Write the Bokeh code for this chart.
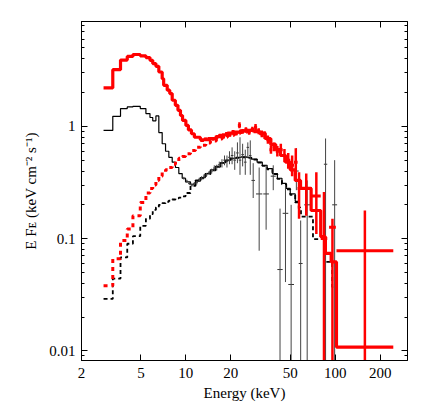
import math
from bokeh.plotting import figure
from bokeh.models import (LogAxis, FixedTicker, CustomJSTickFormatter, Range1d)
from bokeh.embed import file_html
from bokeh.resources import INLINE

# ---------------- data ----------------
x_ticks = [2, 5, 10, 20, 50, 100, 200]
y_ticks = [0.01, 0.1, 1]

# red total model (thick step)
red_tot_edges = [2.81, 3.24, 3.65, 4.05, 4.42, 4.95, 5.40, 5.75, 6.00, 6.30,
                 6.59, 6.94, 7.10, 7.50, 7.80, 8.10, 8.50, 8.85, 9.20, 9.50,
                 10.0, 10.4, 10.9, 11.4, 12.5, 13.6, 14.6, 16.0, 17.5, 19.0,
                 21.0, 23.0, 25.5, 28.0, 31.0, 34.0, 37.0, 40.0, 43.0, 46.5,
                 50.0, 54.0, 58.6, 69.0, 80.0, 86.0, 94.0, 102.0, 245.0]
red_tot_vals = [2.2, 3.2, 3.9, 4.2, 4.37, 4.25, 4.1, 3.88, 3.63, 3.43,
                3.05, 2.66, 2.32, 2.10, 1.96, 1.71, 1.54, 1.39, 1.25, 1.13,
                1.02, 0.93, 0.86, 0.80, 0.76, 0.76, 0.78, 0.81, 0.84, 0.87,
                0.89, 0.91, 0.92, 0.91, 0.87, 0.78, 0.69, 0.62, 0.55, 0.48,
                0.41, 0.33, 0.28, 0.178, 0.104, 0.074, 0.062, 0.0108]

# red hard component (dashed)
red_cmp_edges = [2.81, 3.24, 3.65, 4.05, 4.42, 4.95, 5.40, 5.75, 6.00, 6.30,
                 6.59, 6.94, 7.31, 7.69, 8.10, 8.52, 8.97, 9.45, 9.95, 10.74,
                 11.6, 12.5, 13.6, 14.6, 16.0, 17.5, 19.0, 21.0, 23.0, 25.5,
                 28.0, 31.0, 34.0, 37.0, 40.0]
red_cmp_vals = [0.038, 0.066, 0.096, 0.122, 0.16, 0.21, 0.255, 0.28, 0.30, 0.33,
                0.36, 0.39, 0.41, 0.43, 0.46, 0.49, 0.52, 0.54, 0.57, 0.61,
                0.65, 0.68, 0.71, 0.74, 0.77, 0.80, 0.83, 0.86, 0.88, 0.895,
                0.895, 0.86, 0.78, 0.69]

# black total model (thin step)
blk_tot_edges = [2.81, 3.24, 3.65, 4.05, 4.42, 4.95, 5.40, 5.75, 6.00, 6.30,
                 6.59, 6.94, 7.31, 7.69, 8.10, 8.52, 8.97, 9.45, 9.95, 10.74,
                 11.6, 12.5, 13.5, 14.6, 15.8, 17.1, 18.5, 20.0, 21.7, 23.5,
                 25.5, 27.5, 30.0, 32.5, 35.0, 38.0, 41.0, 44.0, 47.0, 50.0,
                 54.0, 57.0, 59.0]
blk_tot_vals = [0.92, 1.23, 1.44, 1.49, 1.51, 1.44, 1.30, 1.20, 1.12, 1.24,
                0.88, 0.70, 0.60, 0.53, 0.48, 0.43, 0.38, 0.345, 0.32, 0.305,
                0.325, 0.35, 0.38, 0.41, 0.44, 0.475, 0.50, 0.52, 0.53, 0.535,
                0.53, 0.51, 0.48, 0.45, 0.42, 0.38, 0.345, 0.31, 0.28, 0.25,
                0.215, 0.19]

# black hard component (dashed)
blk_cmp_edges = [2.81, 3.24, 3.65, 4.05, 4.42, 4.95, 5.40, 5.75, 6.00, 6.30,
                 6.59, 6.94, 7.31, 7.69, 8.10, 8.52, 8.97, 9.45, 9.95, 10.74,
                 11.6, 12.5, 13.5, 14.6, 15.8, 17.1, 18.5, 20.0, 21.7, 23.5,
                 25.5, 27.5, 30.0, 32.5, 35.0, 38.0, 41.0, 44.0, 47.0, 50.0,
                 54.0, 57.0, 59.0, 71.0, 84.0, 95.5, 103.0]
blk_cmp_vals = [0.029, 0.044, 0.068, 0.09, 0.105, 0.13, 0.15, 0.165, 0.18, 0.19,
                0.20, 0.207, 0.213, 0.218, 0.223, 0.228, 0.232, 0.238, 0.255, 0.295,
                0.33, 0.345, 0.375, 0.405, 0.435, 0.47, 0.495, 0.515, 0.525, 0.53,
                0.525, 0.505, 0.475, 0.445, 0.415, 0.375, 0.34, 0.305, 0.275, 0.245,
                0.21, 0.185, 0.157, 0.099, 0.062, 0.037]

# red data points: energy bin low/high, flux, flux low/high
red_e_lo = [12.5, 13.2, 14.0, 14.8, 15.6, 16.5, 17.4, 18.3, 19.2, 20.2,
            21.2, 22.3, 23.4, 24.6, 25.9, 27.2, 28.6, 30.0, 31.5, 33.0,
            34.6, 36.3, 38.0, 40.0, 42.0, 44.5, 47.0, 50.0, 53.0, 56.0,
            58.6, 69.9, 80.0, 91.0, 102.0]
red_e_hi = [13.2, 14.0, 14.8, 15.6, 16.5, 17.4, 18.3, 19.2, 20.2, 21.2,
            22.3, 23.4, 24.6, 25.9, 27.2, 28.6, 30.0, 31.5, 33.0, 34.6,
            36.3, 38.0, 40.0, 42.0, 44.5, 47.0, 50.0, 53.0, 56.0, 58.6,
            69.9, 80.0, 88.5, 101.0, 245.0]
red_f = [0.75, 0.77, 0.78, 0.77, 0.80, 0.83, 0.81, 0.86, 0.84, 0.89,
         0.87, 1.02, 0.90, 0.93, 0.89, 0.94, 0.98, 0.90, 0.86, 0.83,
         0.76, 0.62, 0.66, 0.60, 0.62, 0.55, 0.50, 0.45, 0.48, 0.28,
         0.28, 0.24, 0.10, 0.126, 0.078]
red_f_lo = [0.73, 0.75, 0.76, 0.75, 0.77, 0.80, 0.78, 0.83, 0.81, 0.85,
            0.83, 0.96, 0.86, 0.88, 0.84, 0.89, 0.93, 0.85, 0.80, 0.77,
            0.70, 0.57, 0.60, 0.54, 0.55, 0.48, 0.42, 0.36, 0.37, 0.15,
            0.16, 0.11, 0.001, 0.001, 0.001]
red_f_hi = [0.77, 0.79, 0.80, 0.80, 0.83, 0.86, 0.84, 0.89, 0.88, 0.93,
            0.91, 1.09, 0.95, 0.98, 0.94, 0.99, 1.05, 0.96, 0.92, 0.90,
            0.83, 0.68, 0.72, 0.67, 0.70, 0.63, 0.58, 0.55, 0.64, 0.39,
            0.38, 0.39, 0.26, 0.15, 0.178]

# black data points
blk_e_lo = [9.45, 9.95, 10.35, 10.75, 11.2, 11.6, 12.05, 12.5, 13.0, 13.5,
            14.0, 14.6, 15.2, 15.8, 16.4, 17.1, 17.8, 18.5, 19.2, 20.0,
            20.8, 21.7, 22.6, 23.5, 24.5, 25.5, 26.5, 27.5, 29.5, 33.0,
            37.0, 41.0, 44.5, 48.5, 53.0, 57.0, 62.0, 84.0, 95.5]
blk_e_hi = [9.95, 10.35, 10.75, 11.2, 11.6, 12.05, 12.5, 13.0, 13.5, 14.0,
            14.6, 15.2, 15.8, 16.4, 17.1, 17.8, 18.5, 19.2, 20.0, 20.8,
            21.7, 22.6, 23.5, 24.5, 25.5, 26.5, 27.5, 29.0, 32.5, 36.0,
            40.0, 44.5, 48.5, 53.0, 57.0, 60.5, 68.0, 88.5, 103.0]
blk_f = [0.345, 0.325, 0.31, 0.30, 0.31, 0.315, 0.335, 0.345, 0.36, 0.37,
         0.385, 0.40, 0.425, 0.43, 0.455, 0.47, 0.50, 0.49, 0.53, 0.55,
         0.50, 0.58, 0.50, 0.56, 0.48, 0.65, 0.55, 0.33, 0.25, 0.25,
         0.36, 0.053, 0.168, 0.039, 0.40, 0.06, 0.20, 0.46, 0.20]
blk_f_lo = [0.335, 0.315, 0.30, 0.29, 0.30, 0.303, 0.322, 0.33, 0.345, 0.355,
            0.37, 0.38, 0.40, 0.405, 0.425, 0.43, 0.45, 0.43, 0.46, 0.46,
            0.41, 0.47, 0.37, 0.44, 0.37, 0.52, 0.37, 0.23, 0.078, 0.12,
            0.27, 0.001, 0.041, 0.001, 0.27, 0.001, 0.001, 0.001, 0.001]
blk_f_hi = [0.355, 0.335, 0.32, 0.31, 0.32, 0.327, 0.348, 0.36, 0.375, 0.385,
            0.40, 0.42, 0.45, 0.455, 0.485, 0.51, 0.55, 0.55, 0.60, 0.65,
            0.60, 0.72, 0.80, 0.70, 0.62, 0.72, 0.75, 0.47, 0.43, 0.45,
            0.45, 0.185, 0.30, 0.20, 0.64, 0.145, 0.33, 0.78, 0.50]

x_title = "Energy (keV)"
y_title = "E F\u1D07 (keV cm\u207B\u00B2 s\u207B\u00B9)"

# ---------------- figure ----------------
FONT = "'Liberation Serif', 'Times New Roman', serif"

p = figure(width=424, height=408, x_axis_type="log", y_axis_type="log",
           x_range=Range1d(2, 305), y_range=Range1d(0.0082, 8.6),
           output_backend="svg", toolbar_location=None,
           min_border_left=81, min_border_right=17, min_border_top=21,
           min_border_bottom=48)
p.grid.visible = False
p.outline_line_color = "black"
p.background_fill_color = "white"

y_minor = []
for dec in [0.001, 0.01, 0.1, 1]:
    for m in range(2, 10):
        y_minor.append(m * dec)

xt = FixedTicker(ticks=x_ticks, minor_ticks=[])
yt = FixedTicker(ticks=y_ticks, minor_ticks=y_minor)
fmt = CustomJSTickFormatter(code="return String(tick);")


def style_axis(ax, ticker, labels):
    ax.ticker = ticker
    ax.axis_line_color = "black"
    ax.major_tick_in = 6
    ax.major_tick_out = 0
    ax.minor_tick_in = 3
    ax.minor_tick_out = 0
    ax.major_tick_line_color = "black"
    ax.minor_tick_line_color = "black"
    if labels:
        ax.formatter = fmt
        ax.major_label_text_font = FONT
        ax.major_label_text_font_size = "15px"
        ax.major_label_text_color = "black"
    else:
        ax.formatter = CustomJSTickFormatter(code="return '';")
        ax.major_label_text_font_size = "0px"


xa = p.xaxis[0]
style_axis(xa, xt, True)
xa.major_label_standoff = 7
xa.axis_label = x_title
xa.axis_label_text_font = FONT
xa.axis_label_text_font_size = "15px"
xa.axis_label_text_font_style = "normal"
xa.axis_label_text_color = "black"
xa.axis_label_standoff = 4

ya = p.yaxis[0]
style_axis(ya, yt, True)
ya.major_label_standoff = 6
ya.axis_label = y_title
ya.axis_label_text_font = FONT
ya.axis_label_text_font_size = "15px"
ya.axis_label_text_font_style = "normal"
ya.axis_label_text_color = "black"
ya.axis_label_standoff = 7

top = LogAxis()
style_axis(top, xt, False)
p.add_layout(top, "above")
right = LogAxis()
style_axis(right, yt, False)
p.add_layout(right, "right")


def step_xy(edges, vals):
    return list(edges), list(vals) + [vals[-1]]


# black hard component (dashed)
bx, by = step_xy(blk_cmp_edges, blk_cmp_vals)
p.step(bx, by, mode="after", line_color="black", line_width=1.8, line_dash="4 3")
# black total
bx, by = step_xy(blk_tot_edges, blk_tot_vals)
p.step(bx, by, mode="after", line_color="black", line_width=1.2)
# black data crosses
blk_e_c = [math.sqrt(a * b) for a, b in zip(blk_e_lo, blk_e_hi)]
p.segment(x0=blk_e_lo, y0=blk_f, x1=blk_e_hi, y1=blk_f, line_color="#333333", line_width=1)
p.segment(x0=blk_e_c, y0=blk_f_lo, x1=blk_e_c, y1=blk_f_hi, line_color="#444444", line_width=1)

# red hard component (dashed)
rx, ry = step_xy(red_cmp_edges, red_cmp_vals)
p.step(rx, ry, mode="after", line_color="red", line_width=3, line_dash="4 4")
# red total
rx, ry = step_xy(red_tot_edges, red_tot_vals)
p.step(rx, ry, mode="after", line_color="red", line_width=3.2)
# red data crosses
red_e_c = [math.sqrt(a * b) for a, b in zip(red_e_lo, red_e_hi)]
p.segment(x0=red_e_lo, y0=red_f, x1=red_e_hi, y1=red_f, line_color="red", line_width=3)
p.segment(x0=red_e_c, y0=red_f_lo, x1=red_e_c, y1=red_f_hi, line_color="red", line_width=2.5)

open("out.html", "w").write(file_html(p, INLINE))
